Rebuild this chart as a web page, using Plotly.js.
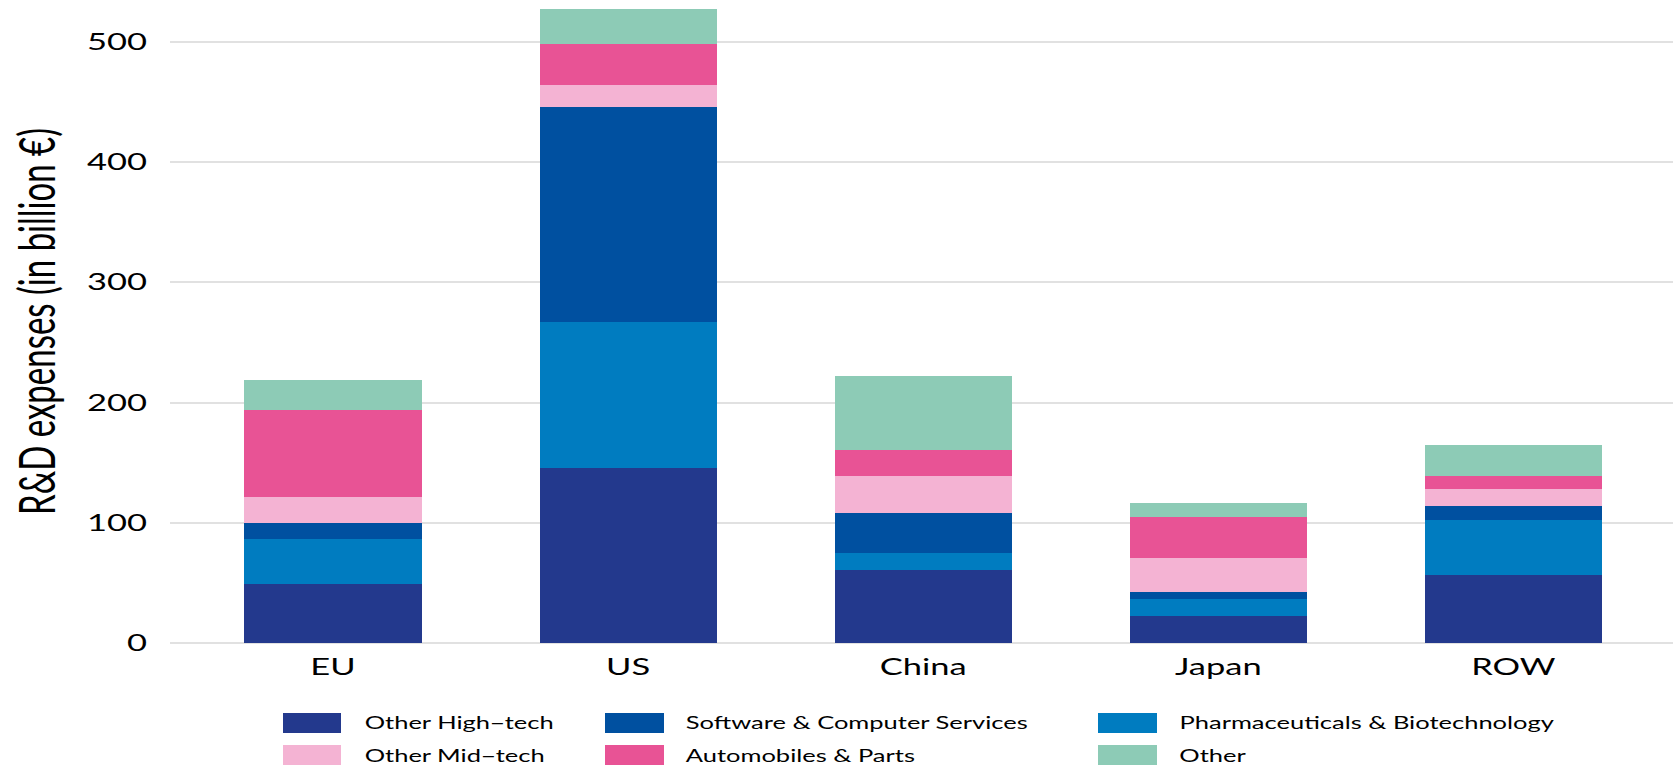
<!DOCTYPE html>
<html>
<head>
<meta charset="utf-8">
<script src="https://cdn.plot.ly/plotly-3.0.1.min.js"></script>
<style>
  html, body { margin: 0; padding: 0; background: #ffffff; overflow: hidden; }
  #chart { width: 1115px; height: 773px; transform: scaleX(1.50045); transform-origin: 0 0; }
</style>
</head>
<body>
<div id="chart"></div>
<script>
// ---- data ----
const regions = ["EU", "US", "China", "Japan", "ROW"];
const seriesNames = ["Other High\u2212tech", "Pharmaceuticals & Biotechnology", "Software & Computer Services",
                     "Other Mid\u2212tech", "Automobiles & Parts", "Other"];
const otherHighTech   = [49.0, 145.3, 60.7, 22.1, 56.3];
const pharmaBiotech   = [37.5, 121.3, 14.1, 14.2, 45.8];
const softwareCompSvc = [13.3, 178.9, 33.3,  5.8, 11.7];
const otherMidTech    = [21.6,  18.3, 30.7, 28.3, 14.7];
const automobiles     = [72.3,  34.1, 21.6, 34.2, 10.8];
const other           = [24.9,  29.1, 61.6, 11.6, 25.8];
const yTickVals = [0, 100, 200, 300, 400, 500];

// ---- styles ----
const colors = ["#23398D", "#007CC0", "#0050A0", "#F4B3D3", "#E85395", "#8DCBB6"];
const values = [otherHighTech, pharmaBiotech, softwareCompSvc, otherMidTech, automobiles, other];
const FONT = "Lato, 'Open Sans', sans-serif";

const traces = values.map((v, i) => ({
  type: "bar",
  name: seriesNames[i],
  x: regions,
  y: v,
  marker: { color: colors[i], line: { width: 0 } },
  showlegend: false,
  hoverinfo: "x+y+name"
}));

// ---- custom legend (ggplot-style wide keys) ----
const W = 1115, S = 1673 / 1115, ML = 113, PW = W - ML, PH = 643;
const px = X => (X / S - ML) / PW;          // full-pixel x -> paper
const py = Y => (PH - Y) / PH;              // full-pixel y -> paper
const legendOrder = [0, 2, 1, 3, 4, 5];      // row-major: HT, Software, Pharma / Mid, Auto, Other
const colSwatch = [[283, 341], [605, 664], [1098, 1157]];
const colText = [361, 683, 1176];
const rowY = [723, 755];
const shapes = [], annotations = [];
legendOrder.forEach((si, k) => {
  const r = Math.floor(k / 3), c = k % 3;
  shapes.push({ type: "rect", xref: "paper", yref: "paper",
    x0: px(colSwatch[c][0]), x1: px(colSwatch[c][1]),
    y0: py(rowY[r] - 10), y1: py(rowY[r] + 10),
    fillcolor: colors[si], line: { width: 0 } });
  annotations.push({ xref: "paper", yref: "paper", x: px(colText[c]), y: py(rowY[r]),
    xanchor: "left", yanchor: "middle", showarrow: false,
    text: seriesNames[si], font: { family: FONT, size: 17, color: "#000" } });
});

const layout = {
  width: W, height: 773,
  margin: { l: ML, r: 0, t: 0, b: 773 - PH },
  paper_bgcolor: "#ffffff", plot_bgcolor: "#ffffff",
  barmode: "stack", bargap: 0.4,
  showlegend: false,
  font: { family: FONT, color: "#000" },
  xaxis: {
    range: [-0.554, 4.541], showgrid: false, zeroline: false, showline: false,
    ticks: "", ticklabelstandoff: 8,
    tickfont: { family: FONT, size: 23, color: "#000" }, fixedrange: true
  },
  yaxis: {
    range: [0, 534.8], tickvals: yTickVals, ticks: "", ticklabelstandoff: 14,
    showgrid: true, gridcolor: "#E1E1E1", gridwidth: 2,
    zeroline: true, zerolinecolor: "#E1E1E1", zerolinewidth: 2, showline: false,
    tickfont: { family: FONT, size: 23, color: "#000" },
    title: { text: "R&D expenses (in billion \u20AC)", standoff: 10,
             font: { family: FONT, size: 33, color: "#000" } },
    fixedrange: true
  },
  shapes: shapes,
  annotations: annotations
};

Plotly.newPlot("chart", traces, layout, { displayModeBar: false, staticPlot: true });
</script>
</body>
</html>
